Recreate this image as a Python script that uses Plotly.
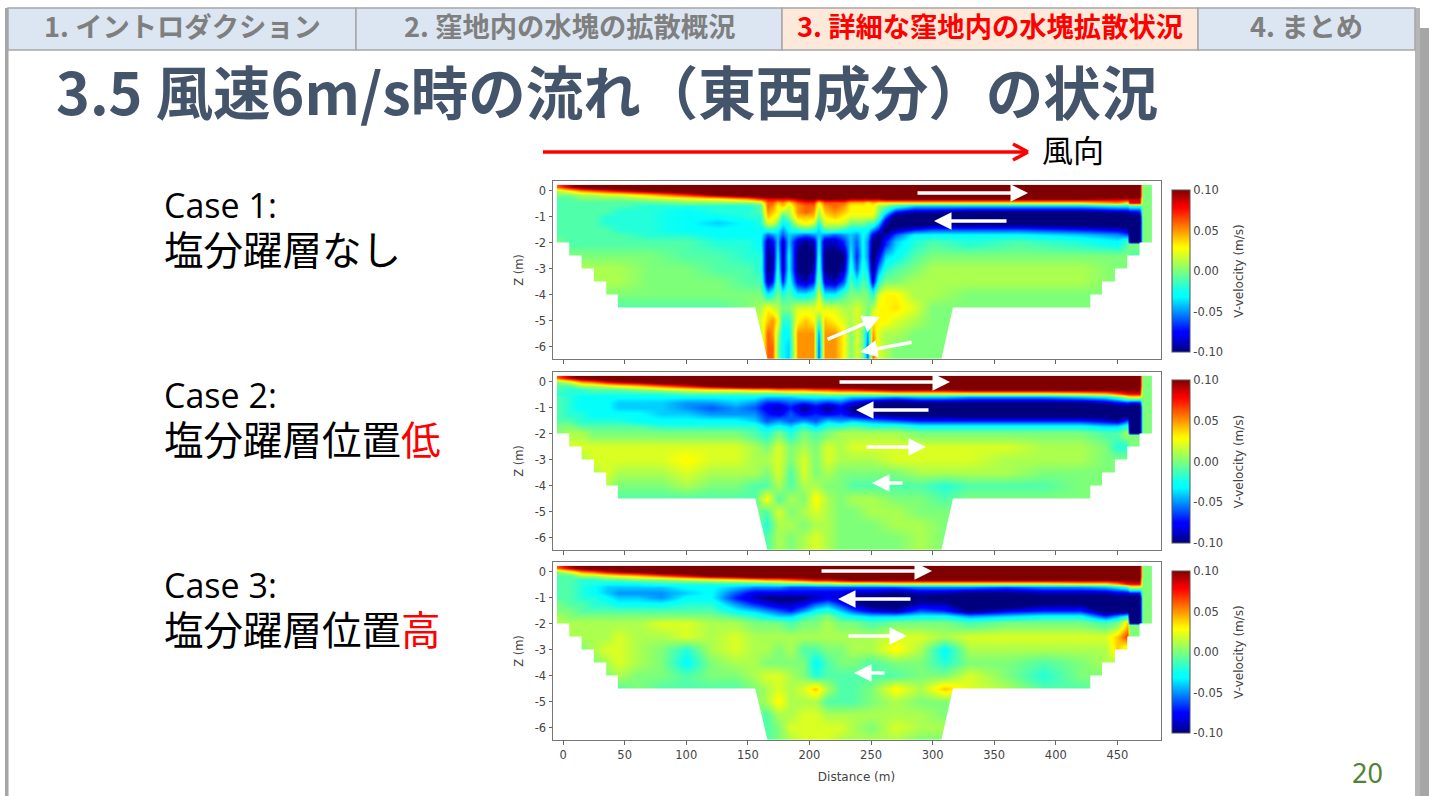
import plotly.graph_objects as go

W, H = 1429, 796

# ---------- data: velocity in cm/s on (z, x) nodes ----------
z_levels = [0.15, 0, -0.15, -0.3, -0.45, -0.6, -0.8, -1, -1.25, -1.5, -1.7, -1.95, -2.05,
            -2.5, -3, -3.5, -4, -4.5, -5, -5.5, -6, -6.5]
x_case1 = [-5, 5, 15, 25, 35, 45, 70, 100, 125, 150, 160, 166, 170, 174, 178, 183, 190, 197, 203, 207, 212,
           220, 228, 233, 238, 243, 247, 251, 256, 262, 270, 285, 300, 330, 370, 420, 450, 458, 460, 468, 470, 478]
x_case23 = [-5, 5, 15, 25, 35, 45, 60, 80, 100, 120, 140, 155, 165, 175, 185, 195, 205, 215, 225, 235, 250,
            270, 290, 310, 330, 360, 390, 420, 440, 450, 458, 460, 468, 470, 478]

velocity_case1 = [
 [6,9,11,12,12,12,12,12,12,12,12,12,12,12,12,12,12,12,12,12,12,12,12,12,12,12,12,12,12,12,12,12,12,12,12,12,12,12,12,12,0,0],
 [1,3,5,6,7,8,10,12,12,12,12,12,12,12,12,12,12,12,12,12,12,12,12,12,12,12,12,12,12,12,12,12,12,12,12,12,12,12,12,12,0,0],
 [0,0,1,1,2,2,4,7,10,12,12,12,12,12,12,12,12,12,12,12,12,12,12,12,12,12,12,12,12,12,12,12,12,12,12,12,12,12,12,12,0,0],
 [-1,-1,0,0,0,0,1,2,3,5,7,8,8,8,8,8,9,10,10,9,10,10,10,9,9,9,9,9,9,10,10,10,10,10,10,10,9,9,9,9,0,0],
 [-1,-1,-1,-1,-1,-1,-1,0,0,0,1,6,6,4,5,3,6,7,7,3,6,6,6,4,4,4,3,4,3,3,3,3,3,3,3,3,5,3,8,8,0,0],
 [-1,-1,-1,-1,-1,-1,-2,-2,-2,-2,-1,6,5,3,4,2,5,6,6,2,5,6,5,3,3,3,3,3,1,0,-2,-4,-4,-4,-4,-4,-3,-3,-2,-2,0,0],
 [-1,-1,-1,-1,-1,-2,-2,-3,-2,-2,-1,5,4,3,1,1,5,6,5,1,4,5,4,3,3,3,3,3,0,-3,-7,-9,-9,-10,-10,-10,-9,-9,-8,-8,0,0],
 [-1,-1,-1,-1,-2,-2,-2,-3,-3,-2,-2,4,3,2,-2,0,4,4,4,0,3,4,3,2,2,2,2,2,-1,-6,-11,-12,-12,-12,-12,-12,-12,-12,-11,-11,0,0],
 [-1,-1,-1,-1,-2,-2,-2,-3,-4,-3,-2,2,2,0,-3,-2,2,3,2,-2,2,2,2,0,0,0,-1,-1,-4,-9,-11,-12,-11,-11,-11,-12,-12,-12,-12,-12,0,0],
 [-1,-1,-1,-1,-1,-2,-2,-3,-3,-3,-3,-2,-2,-3,-5,-3,-2,-1,-2,-4,-1,-1,-2,-3,-3,-3,-3,-5,-7,-11,-9,-7,-6,-6,-6,-7,-8,-9,-12,-12,0,0],
 [-1,-1,-1,-1,-1,-1,-2,-2,-3,-3,-3,-6,-5,-4,-6,-4,-5,-6,-5,-4,-5,-6,-5,-4,-5,-3,-4,-8,-10,-9,-6,-3,-3,-3,-3,-4,-5,-6,-12,-12,0,0],
 [0,-1,-1,-1,-1,-1,-1,-1,-2,-2,-3,-9,-8,-4,-9,-4,-9,-10,-9,-3,-9,-9,-7,-4,-6,-3,-5,-10,-10,-7,-4,-2,-1,-2,-1,-2,-3,-1,-12,-12,0,0],
 [0,-1,-1,-1,-1,-1,-1,-1,-2,-2,-3,-9,-8,-4,-9,-4,-9,-10,-9,-3,-9,-9,-7,-4,-6,-3,-5,-10,-10,-7,-4,-2,-1,-2,-1,-2,-3,-1,0,0,0,0],
 [0,0,0,0,0,0,0,-1,-1,-2,-2,-10,-9,-3,-9,-3,-10,-11,-10,-2,-10,-11,-10,-3,-7,-3,-5,-11,-8,-4,-3,-1,0,0,0,0,0,0,-1,-1,0,0],
 [1,1,1,1,1,1,0,0,-1,-1,-2,-10,-9,-2,-9,-3,-10,-11,-9,-1,-10,-11,-9,-2,-6,-2,-4,-10,-5,-2,-1,0,1,1,1,1,0,0,0,0,0,0],
 [1,1,1,1,1,1,0,0,0,-1,-1,-9,-7,-1,-7,-2,-8,-9,-7,0,-8,-9,-6,-1,-3,-1,-2,-8,-2,0,0,1,1,1,1,1,0,0,0,0,0,0],
 [0,0,0,0,0,0,0,0,0,0,0,-3,-2,0,-2,-1,-3,-3,-2,2,-3,-3,-1,0,0,0,0,-2,2,3,3,1,1,0,0,0,0,0,0,0,0,0],
 [0,0,0,0,-1,-1,-1,-1,-1,0,1,3,2,1,0,0,2,2,2,3,2,2,1,1,2,1,0,1,3,3,3.5,2,0,0,0,0,0,0,0,0,0,0],
 [0,0,0,0,0,0,0,0,0,0,2,4,5,3,-2,-2,3,4,3,-1,4,3,2,1,2,1,-1,3,3,3,2,1,0,0,0,0,0,0,0,0,0,0],
 [0,0,0,0,0,0,0,0,0,0,1,6,5,1,-3,-3,5,5,5,-5,5,5,3,0,2,0,-5,5,2,1,1,0,0,0,0,0,0,0,0,0,0,0],
 [0,0,0,0,0,0,0,0,0,0,1,6,6,0,-3,-4,5,5,5,-6,5,5,3,0,2,0,-6,6,2,1,0,0,0,0,0,0,0,0,0,0,0,0],
 [0,0,0,0,0,0,0,0,0,0,1,6,6,0,-3,-4,5,5,5,-6,5,5,3,0,2,0,-6,6,2,1,0,0,0,0,0,0,0,0,0,0,0,0],
]

velocity_case2 = [
 [6,9,11,12,12,12,12,12,12,12,12,12,12,12,12,12,12,12,12,12,12,12,12,12,12,12,12,12,12,12,12,12,12,0,0],
 [0,2,5,6,8,9,10,12,12,12,12,12,12,12,12,12,12,12,12,12,12,12,12,12,12,12,12,12,12,12,12,12,12,0,0],
 [-1,-1,1,1,2,3,4,6,8,10,12,12,12,12,12,12,12,12,12,12,12,12,12,12,12,12,12,12,12,12,12,12,12,0,0],
 [-1,-2,-2,-1,-1,-1,0,1,2,3,3,4,4,5,5,5,6,6,7,7,8,9,9,9,10,10,10,10,10,10,10,10,10,0,0],
 [-2,-2,-2,-2,-2,-2,-2,-2,-1,-1,-1,-1,-1,-1,0,0,0,1,1,1,1,2,2,2,2,2,2,3,4,6,8,8,8,0,0],
 [-1,-2,-3,-3,-3,-3,-3,-3,-3,-3,-3,-3,-4,-4,-4,-3,-3,-3,-3,-4,-4,-5,-4,-4,-5,-5,-5,-4,-3,-1,2,3,3,0,0],
 [-1,-2,-3,-3,-3,-4,-4,-4,-5,-5,-4,-5,-7,-7,-6,-7,-6,-7,-6,-8,-10,-11,-10,-10,-10,-10,-10,-10,-9,-8,-7,-8,-8,0,0],
 [-1,-2,-3,-3,-3,-4,-4,-4,-5,-6,-5,-6,-8,-9,-7,-10,-8,-10,-8,-10,-12,-12,-12,-12,-12,-12,-12,-12,-11,-11,-11,-12,-12,0,0],
 [-1,-2,-2,-3,-3,-3,-3,-4,-4,-5,-5,-5,-7,-8,-6,-8,-7,-8,-7,-9,-10,-11,-11,-11,-12,-12,-12,-12,-12,-12,-12,-12,-12,0,0],
 [-1,-1,-2,-2,-2,-2,-3,-3,-3,-3,-3,-4,-6,-5,-6,-5,-6,-4,-5,-4,-5,-6,-7,-7,-7,-7,-7,-7,-8,-9,-6,-12,-12,0,0],
 [0,0,-1,-1,-1,-1,-1,-2,-2,-2,-2,-2,-4,-3,-4,-2,-4,-2,-2,-1,-2,-2,-3,-3,-3,-3,-3,-3,-4,-4,-2,-12,-12,0,0],
 [0,1,1,0,0,0,0,0,0,0,0,-1,-2,0,-2,0,-1,0,1,1,1,1,0,0,0,0,0,0,-1,-1,1,-12,-12,0,0],
 [0,1,1,0,0,0,0,0,0,0,0,-1,-2,0,-2,0,-1,0,1,1,1,1,0,0,0,0,0,0,-1,-1,1,0,0,0,0],
 [1,2,2,2,2,2,2,2,2,2,2,1,0,2,0,1,0,2,1,2,2,2,2,2,2,2,1,1,0,-2,-2,0,0,0,0],
 [1,1,1,2,2,2,2,2,3,2,2,1,1,2,0,2,0,2,1,1,1,2,2,2,2,1,1,1,0,0,0,0,0,0,0],
 [0,0,0,1,2,1,1,1,2,1,1,1,0,2,-1,2,0,1,0,0,0,0,1,1,1,1,0,0,0,0,0,0,0,0,0],
 [0,0,0,0,1,0,0,0,1,0,0,-1,-1,1,-1,1,1,0,0,-1,-1,-1,-1,-2,-1,-1,-1,0,0,0,0,0,0,0,0],
 [0,0,0,0,-1,-1,-1,-1,-1,-1,-1,-1,3,-1,1,0,3,1,0,1,1,0,0,-1,0,0,0,0,0,0,0,0,0,0,0],
 [0,0,0,0,0,0,0,0,0,0,0,0,-1,2,0,1,2,1,0,0,1,1,0,0,0,0,0,0,0,0,0,0,0,0,0],
 [0,0,0,0,0,0,0,0,0,0,0,0,-2,1,1,0,1,1,0,0,0,1,1,0,0,0,0,0,0,0,0,0,0,0,0],
 [0,0,0,0,0,0,0,0,0,0,0,0,-1,1,0,1,2,1,0,0,0,0,1,0,0,0,0,0,0,0,0,0,0,0,0],
 [0,0,0,0,0,0,0,0,0,0,0,0,-1,1,0,1,2,1,0,0,0,0,1,0,0,0,0,0,0,0,0,0,0,0,0],
]

velocity_case3 = [
 [6,9,11,12,12,12,12,12,12,12,12,12,12,12,12,12,12,12,12,12,12,12,12,12,12,12,12,12,12,12,12,12,12,0,0],
 [0,2,5,6,8,9,10,12,12,12,12,12,12,12,12,12,12,12,12,12,12,12,12,12,12,12,12,12,12,12,12,12,12,0,0],
 [-1,-1,1,1,2,3,4,6,8,10,11,12,12,12,12,12,12,12,12,12,12,12,12,12,12,12,12,12,12,12,12,12,12,0,0],
 [-1,-1,-2,-2,-1,-1,0,0,1,2,3,4,5,5,6,7,8,8,9,10,10,10,10,10,10,10,10,10,10,10,10,10,10,0,0],
 [-1,-1,-2,-2,-3,-3,-3,-2,-2,-2,-2,-2,-2,-1,-1,-1,0,0,1,1,1,2,2,2,2,2,2,3,3,5,8,8,8,0,0],
 [-1,-1,-2,-3,-4,-4,-4,-4,-3,-3,-4,-5,-5,-5,-6,-6,-6,-6,-6,-6,-6,-6,-5,-5,-5,-6,-5,-5,-4,-3,-1,2,2,0,0],
 [-1,-1,-2,-3,-4,-5,-5,-5,-4,-3,-6,-8,-8,-8,-8,-8,-8,-8,-8,-9,-9,-10,-9,-9,-10,-10,-9,-9,-9,-8,-8,-7,-7,0,0],
 [-1,-1,-2,-2,-3,-4,-4,-5,-3,-3,-7,-9,-10,-10,-10,-10,-9,-8,-9,-10,-11,-11,-10,-11,-12,-12,-11,-11,-11,-11,-11,-12,-12,0,0],
 [0,-1,-1,-2,-2,-3,-3,-3,-2,-2,-5,-7,-8,-9,-9,-8,-6,-5,-7,-9,-11,-11,-9,-9,-12,-12,-10,-10,-12,-12,-12,-12,-12,0,0],
 [0,0,-1,-1,-1,-1,-1,-1,-1,-1,-3,-4,-5,-6,-7,-5,-3,-2,-4,-6,-8,-9,-6,-7,-10,-8,-7,-7,-11,-11,-11,-12,-12,0,0],
 [1,0,0,0,0,0,0,0,0,0,-1,-2,-3,-4,-4,-2,-1,0,-2,-3,-4,-4,-3,-3,-5,-4,-3,-3,-7,-5,-3,-12,-12,0,0],
 [1,1,1,1,1,1,1,2,2,1,1,0,0,0,-1,0,0,1,0,0,-1,0,0,0,-1,0,0,0,-1,0,4,-12,-12,0,0],
 [1,1,1,1,1,1,1,2,2,1,1,0,0,0,-1,0,0,1,0,0,-1,0,0,0,-1,0,0,0,-1,0,4,0,0,0,0],
 [1,1,1,1,1,2,1,1,2,1,2,1,1,1,1,1,1,1,1,1,1,2,2,1,2,2,2,2,2,4,7,0,0,0,0],
 [1,1,0,1,2,2,1,0,-2,1,2,1,1,0,1,-1,-1,0,0,1,1,3,1,-3,1,1,1,1,1,4,1,0,0,0,0],
 [1,1,0,0,1,2,1,0,-3,0,1,1,0,0,0,0,-3,-1,0,0,-1,0,0,-2,0,0,-1,0,1,1,0,0,0,0,0],
 [0,0,0,0,0,1,0,0,-1,0,0,1,2,2,1,0,-2,-1,-1,-1,-1,-1,0,0,2,0,-2,0,0,0,0,0,0,0,0],
 [0,0,0,0,-1,-1,0,-1,-1,-1,-1,0,1,2,1,2,4,1,-1,-1,0,3,1,4,2,1,-1,-1,0,0,0,0,0,0,0],
 [0,0,0,0,0,0,0,0,0,0,0,0,1,3,1,1,1,-1,-1,-1,0,1,0,0,0,0,0,0,0,0,0,0,0,0,0],
 [0,0,0,0,0,0,0,0,0,0,0,0,-1,1,1,2,2,1,1,1,1,1,1,0,0,0,0,0,0,0,0,0,0,0,0],
 [0,0,0,0,0,0,0,0,0,0,0,0,-1,0,2,2,2,2,2,1,0,2,1,1,0,0,0,0,0,0,0,0,0,0,0],
 [0,0,0,0,0,0,0,0,0,0,0,0,-1,0,1,2,2,2,1,1,1,1,0,0,0,0,0,0,0,0,0,0,0,0,0],
]

# basin bed outline (m): outside of it there is no water
bed_x = [478, 478, 468, 468, 458, 458, 448, 448, 437.5, 437.5, 428, 428, 316.5, 307, 166, 156, 44.5, 44.5, 35, 35, 25, 25, 15, 15, 5, 5, -5, -5]
bed_z = [0.22, -2, -2, -2.5, -2.5, -3, -3, -3.5, -3.5, -4, -4, -4.5, -4.5, -6.5, -6.5, -4.5, -4.5, -4, -4, -3.5, -3.5, -3, -3, -2.5, -2.5, -2, -2, 0.22]

x_ticks = [0, 50, 100, 150, 200, 250, 300, 350, 400, 450]
z_ticks = [0, -1, -2, -3, -4, -5, -6]
z_labels = ["0", "-1", "-2", "-3", "-4", "-5", "-6"]
cbar_ticks = [10, 5, 0, -5, -10]
cbar_labels = ["0.10", "0.05", "0.00", "-0.05", "-0.10"]

case_titles = ["Case 1:", "Case 2:", "Case 3:"]
case_notes = ["塩分躍層なし", '塩分躍層位置<span style="color:#ff0000">低</span>', '塩分躍層位置<span style="color:#ff0000">高</span>']
tab_labels = ["1. イントロダクション", "2. 窪地内の水塊の拡散概況", "3. 詳細な窪地内の水塊拡散状況", "4. まとめ"]
tab_edges = [8, 356, 782, 1198, 1415]
title_text = "3.5 風速6m/s時の流れ（東西成分）の状況"

# ---------- layout helpers ----------
px = lambda v: v / W
py = lambda v: 1 - v / H
JET = [[0, "#00007f"], [0.11, "#0000ff"], [0.125, "#0000ff"], [0.34, "#00ffff"], [0.375, "#0dfff2"],
       [0.5, "#7dff7a"], [0.64, "#ffff00"], [0.66, "#fff200"], [0.89, "#ff0000"], [0.91, "#ee0000"], [1, "#7f0000"]]
FONT = "Noto Sans CJK JP"
AX_FONT = "DejaVu Sans"
AX_COLOR = "#444444"

panels = [
    (x_case1, velocity_case1, 181, 359, 190, 352),
    (x_case23, velocity_case2, 372, 550, 380, 543),
    (x_case23, velocity_case3, 562, 740, 571, 733),
]
X_RANGE = [-8.6, 485]
Z_RANGE = [-6.48, 0.365]

fig = go.Figure()
layout = dict(
    width=W, height=H, autosize=False, margin=dict(l=0, r=0, t=0, b=0, pad=0),
    paper_bgcolor="white", plot_bgcolor="white", showlegend=False,
)
annotations, shapes = [], []

for i, (xs, vals, top, bot, cb_top, cb_bot) in enumerate(panels, start=1):
    sfx = "" if i == 1 else str(i)
    fig.add_heatmap(
        x=xs, y=z_levels[::-1], z=vals[::-1], zsmooth="best", zmin=-10, zmax=10, colorscale=JET,
        xaxis="x" + sfx, yaxis="y" + sfx, hoverinfo="skip",
        colorbar=dict(
            x=px(1172), xanchor="left", y=py((cb_top + cb_bot) / 2), yanchor="middle",
            len=(cb_bot - cb_top) / H, lenmode="fraction", thickness=18, thicknessmode="pixels",
            xpad=0, ypad=0, outlinecolor="#555555", outlinewidth=1,
            tickmode="array", tickvals=cbar_ticks, ticktext=[t + "  " for t in cbar_labels], ticks="", ticklen=0,
            tickfont=dict(family=AX_FONT, size=11.5, color=AX_COLOR),
            title=dict(text="V-velocity (m/s)", side="right", font=dict(family=AX_FONT, size=12, color=AX_COLOR)),
        ),
    )
    # the white ring outside the wet section, drawn from the bed outline
    ring_x = [X_RANGE[0], X_RANGE[0], X_RANGE[1], X_RANGE[1], X_RANGE[0], X_RANGE[0]] + bed_x + [X_RANGE[0]]
    ring_z = [Z_RANGE[1], Z_RANGE[0], Z_RANGE[0], Z_RANGE[1], Z_RANGE[1], 0.22] + bed_z + [0.22]
    fig.add_scatter(x=ring_x, y=ring_z, mode="lines", fill="toself", fillcolor="white",
                    line=dict(width=0, color="white"), hoverinfo="skip",
                    xaxis="x" + sfx, yaxis="y" + sfx)
    layout["xaxis" + sfx] = dict(
        domain=[px(552.5), px(1160.5)], range=X_RANGE, anchor="y" + sfx, showgrid=False, zeroline=False,
        showline=True, mirror=True, linecolor="#777777", linewidth=1, ticks="outside", ticklen=4, tickcolor="#666666",
        tickmode="array", tickvals=x_ticks, showticklabels=(i == 3), automargin=False,
        tickfont=dict(family=AX_FONT, size=11.5, color=AX_COLOR),
        title=dict(text="Distance (m)" if i == 3 else "", standoff=11, font=dict(family=AX_FONT, size=12, color=AX_COLOR)),
    )
    layout["yaxis" + sfx] = dict(
        domain=[py(bot), py(top)], range=Z_RANGE, anchor="x" + sfx, showgrid=False, zeroline=False,
        showline=True, mirror=True, linecolor="#777777", linewidth=1, ticks="outside", ticklen=3, tickcolor="#666666",
        tickmode="array", tickvals=z_ticks, ticktext=z_labels, automargin=False,
        tickfont=dict(family=AX_FONT, size=11.5, color=AX_COLOR),
        title=dict(text="Z (m)", standoff=8, font=dict(family=AX_FONT, size=11.5, color=AX_COLOR)),
    )

# ---------- slide furniture ----------
def rect(x0, y0, x1, y1, fill, line=None, lw=0):
    shapes.append(dict(type="rect", xref="paper", yref="paper", x0=px(x0), x1=px(x1), y0=py(y0), y1=py(y1),
                       fillcolor=fill, line=dict(color=line or fill, width=lw), layer="below"))

rect(5, 8, 8, 796, "#a6a6a6")
rect(8, 50, 9, 796, "#d0d0d0")
rect(1415, 8, 1420, 796, "#b5b5b5")
rect(1420, 28, 1429, 796, "#a6a6a6")
tab_fill = ["#dce6f2", "#dce6f2", "#fde9d9", "#dce6f2"]
tab_color = ["#7f7f7f", "#7f7f7f", "#ff0000", "#7f7f7f"]
for k, label in enumerate(tab_labels):
    rect(tab_edges[k], 8, tab_edges[k + 1], 50, tab_fill[k], "#a6a6a6", 1.5)
    annotations.append(dict(xref="paper", yref="paper", x=px((tab_edges[k] + tab_edges[k + 1]) / 2),
                            y=py(25), text="<b>%s</b>" % label, showarrow=False, xanchor="center", yanchor="middle",
                            font=dict(family=FONT, size=27.3, color=tab_color[k])))

annotations.append(dict(xref="paper", yref="paper", x=px(54), y=py(90), text="<b>%s</b>" % title_text,
                        showarrow=False, xanchor="left", yanchor="middle",
                        font=dict(family=FONT, size=57.5, color="#44546a")))
annotations.append(dict(xref="paper", yref="paper", x=px(1040), y=py(148), text="風向", showarrow=False,
                        xanchor="left", yanchor="middle", font=dict(family=FONT, size=31, color="black")))
annotations.append(dict(xref="paper", yref="paper", x=px(1367), y=py(772), text="20", showarrow=False,
                        xanchor="center", yanchor="middle", font=dict(family="Noto Sans", size=27, color="#548235")))

case_y = [(205, 247), (395, 437), (585, 627)]
for (y0, y1), t, n in zip(case_y, case_titles, case_notes):
    annotations.append(dict(xref="paper", yref="paper", x=px(162), y=py(y0), text=t, showarrow=False, xanchor="left",
                            yanchor="middle", font=dict(family="Open Sans", size=34, color="black")))
    annotations.append(dict(xref="paper", yref="paper", x=px(162), y=py(y1), text=n, showarrow=False, xanchor="left",
                            yanchor="middle", font=dict(family=FONT, size=39.5, color="black")))

# red wind arrow: shaft and open head
for (x0, y0, x1, y1) in [(543, 152, 1027, 152), (1013, 144, 1028, 152), (1013, 160, 1028, 152)]:
    shapes.append(dict(type="line", xref="paper", yref="paper", x0=px(x0), y0=py(y0), x1=px(x1), y1=py(y1),
                       line=dict(color="#ff0000", width=3.5)))

# white flow arrows in page pixels: tail x, tail y, tip x, tip y
flow_arrows = [
    (916, 193, 1028, 193), (1008, 221, 934, 221), (826, 340, 880, 317), (913, 342, 860, 352),
    (838, 382, 950, 382), (930, 410, 856, 410), (865, 447, 926, 447), (904, 483, 872, 483),
    (820, 571, 932, 571), (912, 599, 838, 599), (847, 636, 907, 636), (886, 673, 854, 673),
]
for (tx, ty, hx, hy) in flow_arrows:
    annotations.append(dict(xref="paper", yref="paper", x=px(hx), y=py(hy), text="", showarrow=True,
                            axref="pixel", ayref="pixel", ax=tx - hx, ay=ty - hy, arrowcolor="white",
                            arrowwidth=3.5, arrowhead=2, arrowsize=1, standoff=0, startstandoff=0))

fig.update_layout(**layout, annotations=annotations, shapes=shapes)
fig.write_html("out.html", config={"displayModeBar": False},
               post_script="document.body.style.margin='0';document.body.style.overflow='hidden';")
